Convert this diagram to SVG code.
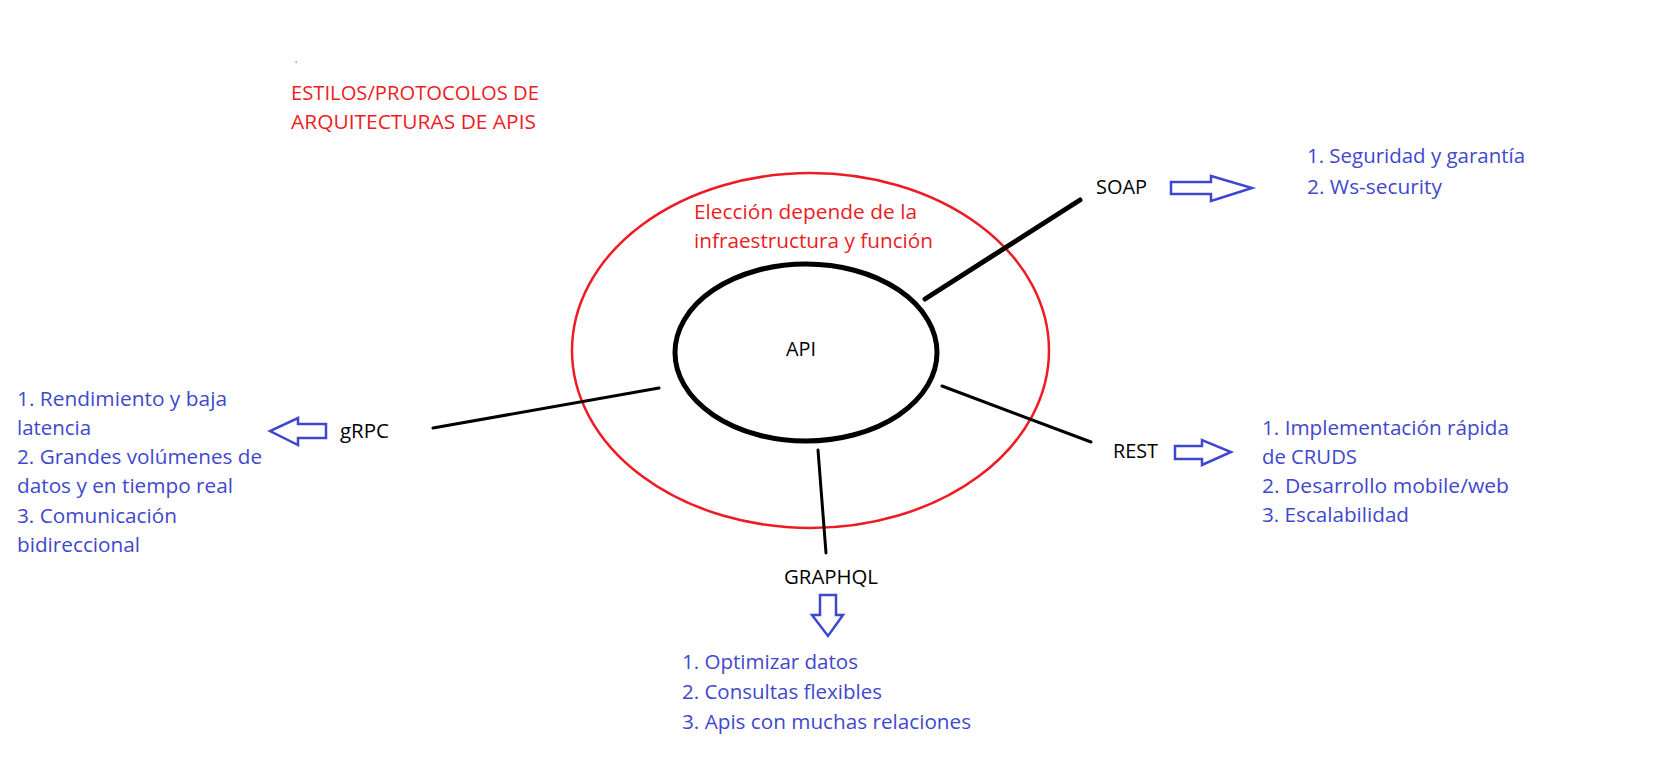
<svg xmlns="http://www.w3.org/2000/svg" width="1658" height="765" viewBox="0 0 1658 765">
<style>
text{font-family:"Open Sans","Noto Sans","Liberation Sans",sans-serif;font-size:19.5px}
.r{fill:#ED1C24}
.b{fill:#3F48CC}
.k{fill:#000}
.ba{fill:none;stroke:#3F48CC;stroke-width:2.5;stroke-linejoin:miter}
.ln{stroke:#000;stroke-linecap:round}
</style>
<rect width="1658" height="765" fill="#fff"/>
<g id="title">
<rect x="295.5" y="61.5" width="1.2" height="1.2" fill="#ED1C24"/>
<text class="r" x="291" y="100" textLength="248" lengthAdjust="spacingAndGlyphs">ESTILOS/PROTOCOLOS DE</text>
<text class="r" x="291" y="129" textLength="245" lengthAdjust="spacingAndGlyphs">ARQUITECTURAS DE APIS</text>
</g>
<g id="context">
<ellipse cx="810.5" cy="350.5" rx="238.5" ry="177.5" fill="none" stroke="#ED1C24" stroke-width="2.5"/>
<text class="r" x="694" y="219" textLength="223" lengthAdjust="spacingAndGlyphs">Elección depende de la</text>
<text class="r" x="694" y="248" textLength="239" lengthAdjust="spacingAndGlyphs">infraestructura y función</text>
</g>
<g id="connectors">
<line class="ln" x1="925" y1="299" x2="1080" y2="200" stroke-width="5"/>
<line class="ln" x1="942" y1="386" x2="1091" y2="442" stroke-width="3"/>
<line class="ln" x1="659" y1="388" x2="433" y2="428" stroke-width="3"/>
<line class="ln" x1="818" y1="450" x2="826" y2="553" stroke-width="3"/>
</g>
<g id="api">
<ellipse cx="806" cy="352.5" rx="131" ry="88.5" fill="none" stroke="#000" stroke-width="5"/>
<text class="k" x="786" y="356" textLength="30" lengthAdjust="spacingAndGlyphs">API</text>
</g>
<g id="soap">
<text class="k" x="1096" y="194" textLength="51" lengthAdjust="spacingAndGlyphs">SOAP</text>
<polygon class="ba" points="1171,182 1211,182 1211,176 1252,188 1211,201 1211,194 1171,194"/>
<text class="b" x="1307" y="163" textLength="218" lengthAdjust="spacingAndGlyphs">1. Seguridad y garantía</text>
<text class="b" x="1307" y="194" textLength="135" lengthAdjust="spacingAndGlyphs">2. Ws-security</text>
</g>
<g id="rest">
<text class="k" x="1113" y="458" textLength="45" lengthAdjust="spacingAndGlyphs">REST</text>
<polygon class="ba" points="1175,446 1202,446 1202,440 1231,452 1202,465 1202,459 1175,459"/>
<text class="b" x="1262" y="435" textLength="247" lengthAdjust="spacingAndGlyphs">1. Implementación rápida</text>
<text class="b" x="1262" y="464" textLength="95" lengthAdjust="spacingAndGlyphs">de CRUDS</text>
<text class="b" x="1262" y="493" textLength="247" lengthAdjust="spacingAndGlyphs">2. Desarrollo mobile/web</text>
<text class="b" x="1262" y="522" textLength="147" lengthAdjust="spacingAndGlyphs">3. Escalabilidad</text>
</g>
<g id="grpc">
<text class="k" x="340" y="438" textLength="49" lengthAdjust="spacingAndGlyphs">gRPC</text>
<polygon class="ba" points="326,424 298,424 298,418 270,431 298,445 298,438 326,438"/>
<text class="b" x="17" y="406" textLength="210" lengthAdjust="spacingAndGlyphs">1. Rendimiento y baja</text>
<text class="b" x="17" y="435" textLength="74" lengthAdjust="spacingAndGlyphs">latencia</text>
<text class="b" x="17" y="464" textLength="245" lengthAdjust="spacingAndGlyphs">2. Grandes volúmenes de</text>
<text class="b" x="17" y="493" textLength="216" lengthAdjust="spacingAndGlyphs">datos y en tiempo real</text>
<text class="b" x="17" y="523" textLength="160" lengthAdjust="spacingAndGlyphs">3. Comunicación</text>
<text class="b" x="17" y="552" textLength="123" lengthAdjust="spacingAndGlyphs">bidireccional</text>
</g>
<g id="graphql">
<text class="k" x="784" y="584" textLength="94" lengthAdjust="spacingAndGlyphs">GRAPHQL</text>
<polygon class="ba" points="820,595 836,595 836,615 843,615 828,636 812,615 820,615"/>
<text class="b" x="682" y="669" textLength="176" lengthAdjust="spacingAndGlyphs">1. Optimizar datos</text>
<text class="b" x="682" y="699" textLength="200" lengthAdjust="spacingAndGlyphs">2. Consultas flexibles</text>
<text class="b" x="682" y="729" textLength="289" lengthAdjust="spacingAndGlyphs">3. Apis con muchas relaciones</text>
</g>
</svg>
